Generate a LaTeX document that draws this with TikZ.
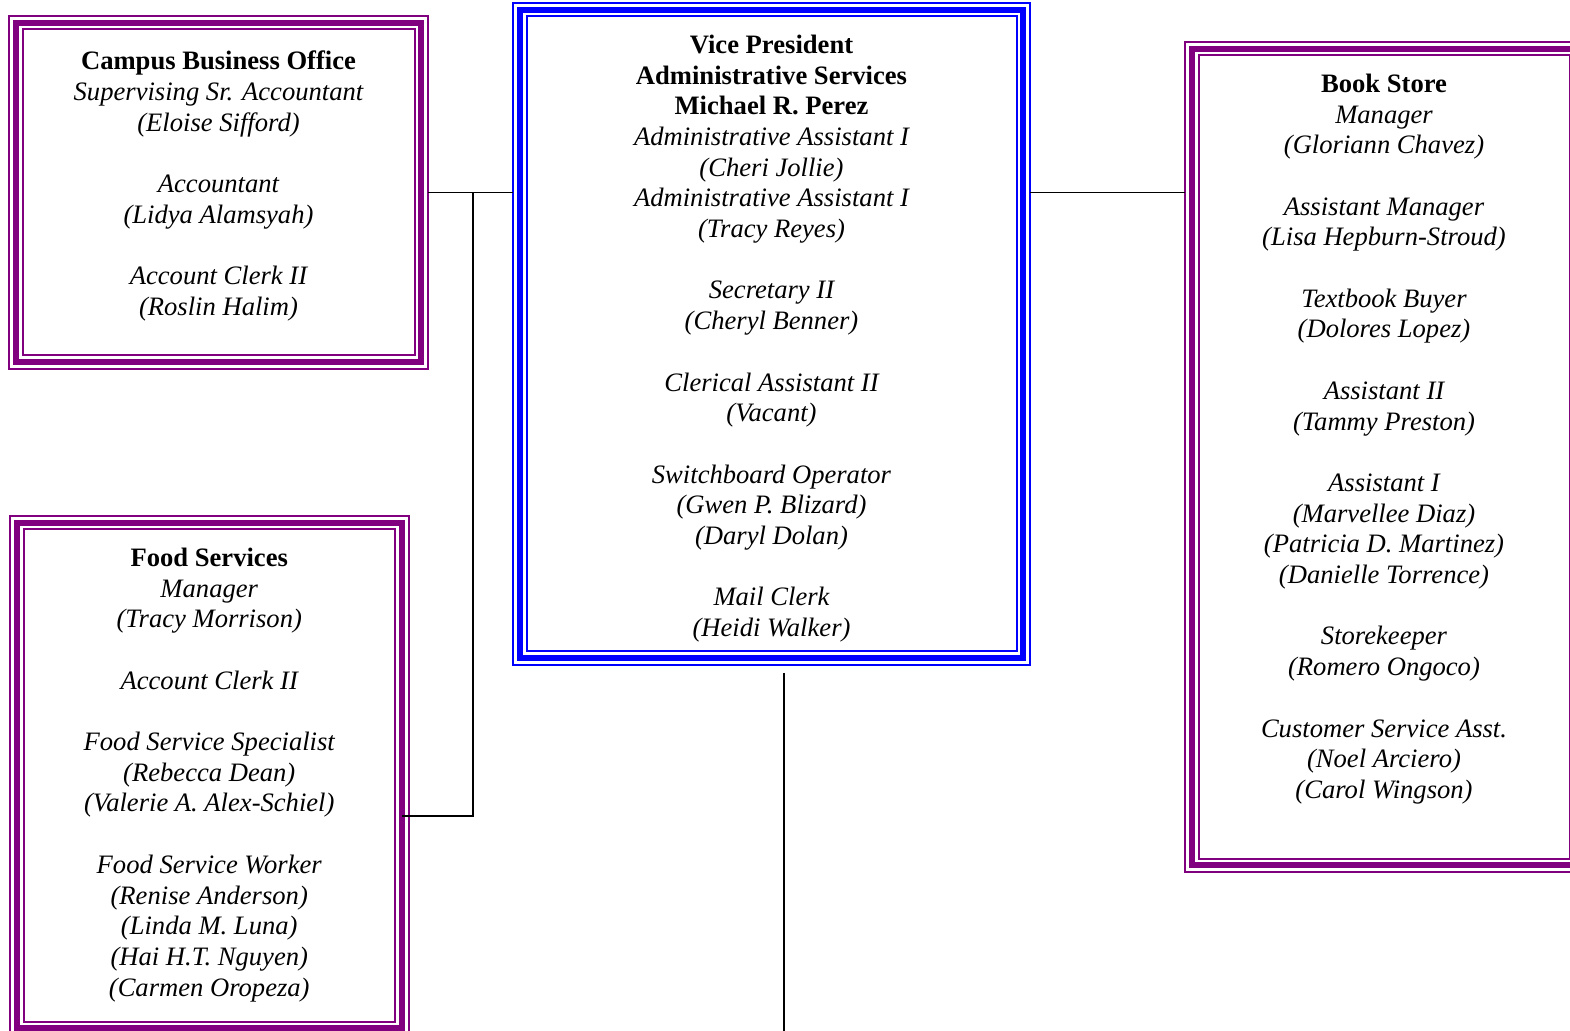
\documentclass[tikz,border=0pt]{standalone}
\usepackage{fontspec}
\setmainfont{Liberation Serif}
\usetikzlibrary{positioning}

\definecolor{orgpurple}{HTML}{800080}
\definecolor{orgblue}{HTML}{0000FF}

\tikzset{
  unitbox/.style={rectangle, draw=#1, line width=3pt, inner sep=0pt, outer sep=0pt},
  rim/.style={draw=#1, line width=1pt},
  txt/.style={anchor=north, align=center, inner sep=0pt,
    font=\fontsize{13.3}{15.35}\selectfont\itshape, execute at begin node=\strut},
  link/.style={draw=black, line width=0.9pt},
}

\newcommand{\triplebox}[2]{%
  \draw[rim=#2] ([shift={(-3.5pt,3.5pt)}]#1.north west) rectangle ([shift={(3.5pt,-3.5pt)}]#1.south east);
  \draw[rim=#2] ([shift={(3.25pt,-3.25pt)}]#1.north west) rectangle ([shift={(-3.25pt,3.25pt)}]#1.south east);
}
\newcommand{\ttl}[1]{{\upshape\bfseries #1}}

\begin{document}
\begin{tikzpicture}[x=0.5pt, y=-0.5pt]
  \useasboundingbox (0,0) rectangle (1570,1031);
  \clip (0,0) rectangle (1570,1031);

  % boxes
  \node[unitbox=orgpurple, minimum width=202.5pt, minimum height=169.5pt] (cbo) at (218.5,192.5) {};
  \node[unitbox=orgblue, minimum width=251.5pt, minimum height=324pt] (vp) at (771.5,334) {};
  \node[unitbox=orgpurple, minimum width=192pt, minimum height=408pt] (bs) at (1384,457) {};
  \node[unitbox=orgpurple, minimum width=192.25pt, minimum height=252.5pt] (fs) at (209.25,775.5) {};

  \triplebox{cbo}{orgpurple}
  \triplebox{vp}{orgblue}
  \triplebox{bs}{orgpurple}
  \triplebox{fs}{orgpurple}

  % texts
  \node[txt] (cbo-txt) at (218.5,50.5) {\ttl{Campus Business Office}\\
    Supervising Sr. Accountant\\ (Eloise Sifford)\\[15.35pt]
    Accountant\\ (Lidya Alamsyah)\\[15.35pt]
    Account Clerk II\\ (Roslin Halim)};

  \node[txt] (vp-txt) at (771.5,34.5) {\ttl{Vice President}\\ \ttl{Administrative Services}\\ \ttl{Michael R. Perez}\\
    Administrative Assistant I\\ (Cheri Jollie)\\
    Administrative Assistant I\\ (Tracy Reyes)\\[15.35pt]
    Secretary II\\ (Cheryl Benner)\\[15.35pt]
    Clerical Assistant II\\ (Vacant)\\[15.35pt]
    Switchboard Operator\\ (Gwen P. Blizard)\\ (Daryl Dolan)\\[15.35pt]
    Mail Clerk\\ (Heidi Walker)};

  \node[txt] (bs-txt) at (1384,73.5) {\ttl{Book Store}\\
    Manager\\ (Gloriann Chavez)\\[15.35pt]
    Assistant Manager\\ (Lisa Hepburn-Stroud)\\[15.35pt]
    Textbook Buyer\\ (Dolores Lopez)\\[15.35pt]
    Assistant II\\ (Tammy Preston)\\[15.35pt]
    Assistant I\\ (Marvellee Diaz)\\ (Patricia D. Martinez)\\ (Danielle Torrence)\\[15.35pt]
    Storekeeper\\ (Romero Ongoco)\\[15.35pt]
    Customer Service Asst.\\ (Noel Arciero)\\ (Carol Wingson)};

  \node[txt] (fs-txt) at (209.25,547.5) {\ttl{Food Services}\\
    Manager\\ (Tracy Morrison)\\[15.35pt]
    Account Clerk II\\[15.35pt]
    Food Service Specialist\\ (Rebecca Dean)\\ (Valerie A. Alex-Schiel)\\[15.35pt]
    Food Service Worker\\ (Renise Anderson)\\ (Linda M. Luna)\\ (Hai H.T. Nguyen)\\ (Carmen Oropeza)};

  % connectors
  \coordinate (split) at (473,193);
  \coordinate (fs-in) at (401.5,816);
  \coordinate (vp-down) at (784,1031);

  \draw[link, shorten <=3.5pt, shorten >=3.5pt] (cbo.east) -- (cbo.east -| vp.west);
  \draw[link, shorten <=3.5pt, shorten >=3.5pt] (vp.east |- cbo.east) -- (bs.west |- cbo.east);
  \draw[link] (split) |- (fs-in);
  \draw[link, shorten <=7.5pt] (vp.south -| vp-down) -- (vp-down);

\end{tikzpicture}
\end{document}
